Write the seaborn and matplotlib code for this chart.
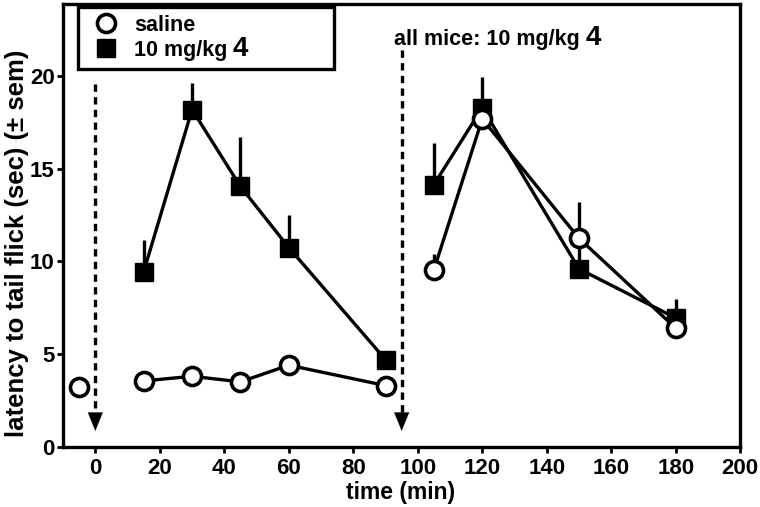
import matplotlib
matplotlib.use('Agg')
import matplotlib.pyplot as plt
from matplotlib.lines import Line2D
import numpy as np
import pandas as pd
import seaborn as sns

# time points (min) and segments
saline_t = [-5, 15, 30, 45, 60, 90, 105, 120, 150, 180]
saline_y = [3.2, 3.55, 3.8, 3.5, 4.4, 3.3, 9.55, 17.7, 11.25, 6.4]
saline_sem = [0.2, 0.2, 0.2, 0.2, 0.2, 0.2, 0.85, 0.4, 1.95, 0.3]
saline_seg = [0, 1, 1, 1, 1, 1, 2, 2, 2, 2]

drug_t = [15, 30, 45, 60, 90, 105, 120, 150, 180]
drug_y = [9.45, 18.2, 14.05, 10.75, 4.7, 14.15, 18.3, 9.6, 6.95]
drug_sem = [1.7, 1.45, 2.65, 1.75, 0.2, 2.25, 1.65, 1.5, 1.05]
drug_seg = [1, 1, 1, 1, 1, 2, 2, 2, 2]

injections = [0, 95]
arrow_tops = [19.6, 21.4]

sns.set_theme(style='ticks')
plt.rcParams['font.family'] = ['Liberation Sans', 'DejaVu Sans']
plt.rcParams['font.weight'] = 'bold'
for key in ('text.color', 'axes.labelcolor', 'xtick.color', 'ytick.color', 'axes.edgecolor'):
    plt.rcParams[key] = 'black'

saline = pd.DataFrame({'t': saline_t, 'y': saline_y, 'sem': saline_sem, 'seg': saline_seg})
drug = pd.DataFrame({'t': drug_t, 'y': drug_y, 'sem': drug_sem, 'seg': drug_seg})

fig = plt.figure(figsize=(7.6, 5.07), dpi=100)
ax = fig.add_axes([0.083, 0.119, 0.891, 0.873])

lw = 2.4

# injection arrows
for xi, top in zip(injections, arrow_tops):
    ax.plot([xi, xi], [top, 1.5], color='black', lw=lw, ls=(0, (2.2, 1.6)), zorder=1)
    ax.annotate('', xy=(xi, 0.7), xytext=(xi, 1.8),
                arrowprops=dict(arrowstyle='-|>,head_length=1.1,head_width=0.45',
                                color='black', lw=0.1), zorder=1)

# error bars (upper half only)
for df in (drug, saline):
    ax.vlines(df['t'], df['y'], df['y'] + df['sem'], color='black', lw=lw, zorder=1.5)

for seg, d in drug.groupby('seg'):
    sns.lineplot(data=d, x='t', y='y', ax=ax, color='black', lw=lw, marker='s',
                 markersize=12.5, markerfacecolor='black', markeredgecolor='black',
                 markeredgewidth=1, estimator=None, sort=False, zorder=3)

for seg, d in saline.groupby('seg'):
    sns.lineplot(data=d, x='t', y='y', ax=ax, color='black', lw=lw, marker='o',
                 markersize=13, markerfacecolor='white', markeredgecolor='black',
                 markeredgewidth=2.6, estimator=None, sort=False, zorder=4)

ax.set_xlim(-10, 200)
ax.set_ylim(0, 23.9)
ax.set_xticks(np.arange(0, 201, 20))
ax.set_yticks([0, 5, 10, 15, 20])
for s in ax.spines.values():
    s.set_linewidth(2.4)
    s.set_color('black')
ax.tick_params(axis='both', direction='out', length=4.5, width=2, labelsize=16,
               color='black', labelcolor='black')
ax.tick_params(axis='x', pad=4)
ax.tick_params(axis='y', pad=1.5)
for lab in ax.get_xticklabels() + ax.get_yticklabels():
    lab.set_fontweight('bold')
ax.set_xlabel('time (min)', fontsize=16.5, fontweight='bold')
ax.set_ylabel('latency to tail flick (sec) (± sem)', fontsize=18.5, fontweight='bold')
ax.xaxis.set_label_coords(0.498, -0.077)
ax.yaxis.set_label_coords(-0.068, 0.459)
ax.yaxis.label.set_va('center')

handles = [
    Line2D([], [], ls='none', marker='o', markersize=13, markerfacecolor='white',
           markeredgecolor='black', markeredgewidth=2.6),
    Line2D([], [], ls='none', marker='s', markersize=12.5, markerfacecolor='black',
           markeredgecolor='black'),
]
leg = ax.legend(handles, ['saline', '10 mg/kg'], loc='upper left',
                bbox_to_anchor=(0.022, 0.993, 0.378, 0.0), mode='expand',
                borderaxespad=0, fancybox=False, framealpha=1, edgecolor='black',
                prop={'size': 15.5, 'weight': 'bold'}, handletextpad=0.34,
                labelspacing=0.2, borderpad=0.35, handlelength=1.9)
leg.get_frame().set_linewidth(2.4)
ax.annotate('4', xy=(1, 0), xycoords=leg.get_texts()[1], xytext=(4, -1),
            textcoords='offset points', va='bottom', ha='left',
            fontsize=20, fontweight='bold', zorder=10)

txt = ax.text(92.7, 22.0, 'all mice: 10 mg/kg', fontsize=15.5, fontweight='bold',
              va='center', ha='left')
ax.annotate('4', xy=(1, 0), xycoords=txt, xytext=(4, -1), textcoords='offset points',
            va='bottom', ha='left', fontsize=20, fontweight='bold', zorder=10)

fig.savefig('out.png', dpi=100)
